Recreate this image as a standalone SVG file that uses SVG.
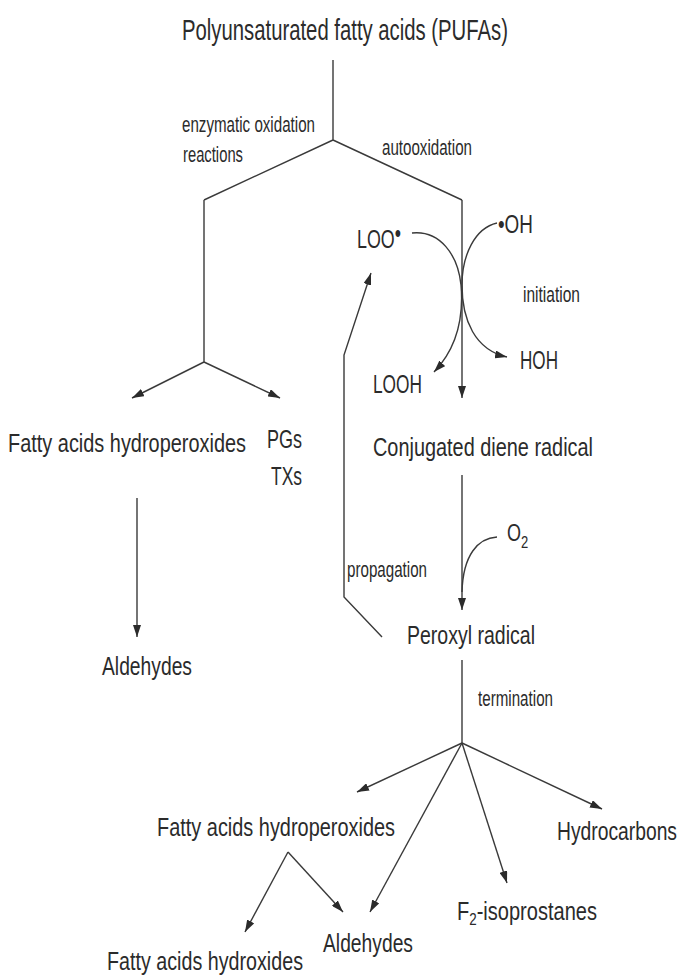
<svg xmlns="http://www.w3.org/2000/svg" width="680" height="976" viewBox="0 0 680 976">
<style>
text{font-family:"Liberation Sans","DejaVu Sans",sans-serif;fill:#2b2b2b}
.t{font-size:20px}
.m{font-size:19.5px}
.r{font-size:18px}
.s{font-size:15px}
.ln{fill:none;stroke:#3a3a3a;stroke-width:1.4}
.ar{fill:none;stroke:#3a3a3a;stroke-width:1.4;marker-end:url(#ah)}
</style>
<defs>
<marker id="ah" markerUnits="userSpaceOnUse" markerWidth="12" markerHeight="8" refX="12" refY="4" orient="auto">
<path d="M0,0 L12,4 L0,8 Z" fill="#2b2b2b"/>
</marker>
</defs>
<g id="connectors">
<path class="ln" d="M333,60 L333,140 M333,140 L204,200 M333,140 L462,200 M204,200 L204,362"/>
<path class="ar" d="M204,362 L132,398"/>
<path class="ar" d="M204,362 L280,398"/>
<path class="ar" d="M462,200 L462,398"/>
<path class="ar" d="M412,233 C440,230 458,255 461,285 C464,320 455,350 434,372"/>
<path class="ar" d="M497,223 C475,228 462,255 462,285 C462,320 475,350 507,357"/>
<path class="ar" d="M137,498 L137,637"/>
<path class="ar" d="M462,475 L462,610"/>
<path class="ln" d="M497,537 C478,538 463,555 462,592"/>
<path class="ar" d="M382,637 L344,597 L344,355 L371,273"/>
<path class="ln" d="M462,660 L462,743"/>
<path class="ar" d="M462,743 L357,792"/>
<path class="ar" d="M462,743 L370,912"/>
<path class="ar" d="M462,743 L507,883"/>
<path class="ar" d="M462,743 L602,809"/>
<path class="ar" d="M288,852 L245,932"/>
<path class="ar" d="M288,852 L343,912"/>
</g>
<g id="pufa"><text class="t" transform="translate(182,40) scale(1,1.5)" textLength="326" lengthAdjust="spacingAndGlyphs">Polyunsaturated fatty acids (PUFAs)</text></g>
<g id="lbl-enzymatic"><text class="s" transform="translate(182,132) scale(1,1.5)" textLength="133" lengthAdjust="spacingAndGlyphs">enzymatic oxidation</text><text class="s" transform="translate(183,162) scale(1,1.5)" textLength="60" lengthAdjust="spacingAndGlyphs">reactions</text></g>
<g id="lbl-autoox"><text class="s" transform="translate(382,155) scale(1,1.5)" textLength="90" lengthAdjust="spacingAndGlyphs">autooxidation</text></g>
<g id="loo"><text class="r" transform="translate(357,248) scale(1,1.45)" textLength="44" lengthAdjust="spacingAndGlyphs">LOO<tspan dy="-4">•</tspan></text></g>
<g id="oh"><text class="r" transform="translate(498,233) scale(1,1.45)" textLength="35" lengthAdjust="spacingAndGlyphs">•OH</text></g>
<g id="lbl-initiation"><text class="s" transform="translate(523,302) scale(1,1.5)" textLength="57" lengthAdjust="spacingAndGlyphs">initiation</text></g>
<g id="hoh"><text class="r" transform="translate(520,369) scale(1,1.45)" textLength="38" lengthAdjust="spacingAndGlyphs">HOH</text></g>
<g id="looh"><text class="r" transform="translate(373,393) scale(1,1.45)" textLength="49" lengthAdjust="spacingAndGlyphs">LOOH</text></g>
<g id="fahp1"><text class="m" transform="translate(8,452) scale(1,1.33)" textLength="238" lengthAdjust="spacingAndGlyphs">Fatty acids hydroperoxides</text></g>
<g id="pgtx"><text class="r" transform="translate(267,448) scale(1,1.4)" textLength="35" lengthAdjust="spacingAndGlyphs">PGs</text><text class="r" transform="translate(271,485) scale(1,1.4)" textLength="31" lengthAdjust="spacingAndGlyphs">TXs</text></g>
<g id="cdr"><text class="m" transform="translate(373,456) scale(1,1.33)" textLength="220" lengthAdjust="spacingAndGlyphs">Conjugated diene radical</text></g>
<g id="o2"><text class="r" transform="translate(507,541) scale(1,1.3)">O<tspan font-size="13" dy="5">2</tspan></text></g>
<g id="lbl-propagation"><text class="s" transform="translate(347,577) scale(1,1.5)" textLength="80" lengthAdjust="spacingAndGlyphs">propagation</text></g>
<g id="peroxyl"><text class="m" transform="translate(407,644) scale(1,1.33)" textLength="128" lengthAdjust="spacingAndGlyphs">Peroxyl radical</text></g>
<g id="ald1"><text class="m" transform="translate(102,675) scale(1,1.33)" textLength="90" lengthAdjust="spacingAndGlyphs">Aldehydes</text></g>
<g id="lbl-termination"><text class="s" transform="translate(478,706) scale(1,1.5)" textLength="75" lengthAdjust="spacingAndGlyphs">termination</text></g>
<g id="fahp2"><text class="m" transform="translate(157,836) scale(1,1.33)" textLength="238" lengthAdjust="spacingAndGlyphs">Fatty acids hydroperoxides</text></g>
<g id="hc"><text class="m" transform="translate(557,840) scale(1,1.33)" textLength="120" lengthAdjust="spacingAndGlyphs">Hydrocarbons</text></g>
<g id="f2"><text class="m" transform="translate(457,920) scale(1,1.33)" textLength="140" lengthAdjust="spacingAndGlyphs">F<tspan font-size="13" dy="4">2</tspan><tspan dy="-4">-isoprostanes</tspan></text></g>
<g id="ald2"><text class="m" transform="translate(323,952) scale(1,1.33)" textLength="90" lengthAdjust="spacingAndGlyphs">Aldehydes</text></g>
<g id="faho"><text class="m" transform="translate(107,970) scale(1,1.33)" textLength="196" lengthAdjust="spacingAndGlyphs">Fatty acids hydroxides</text></g>
</svg>
